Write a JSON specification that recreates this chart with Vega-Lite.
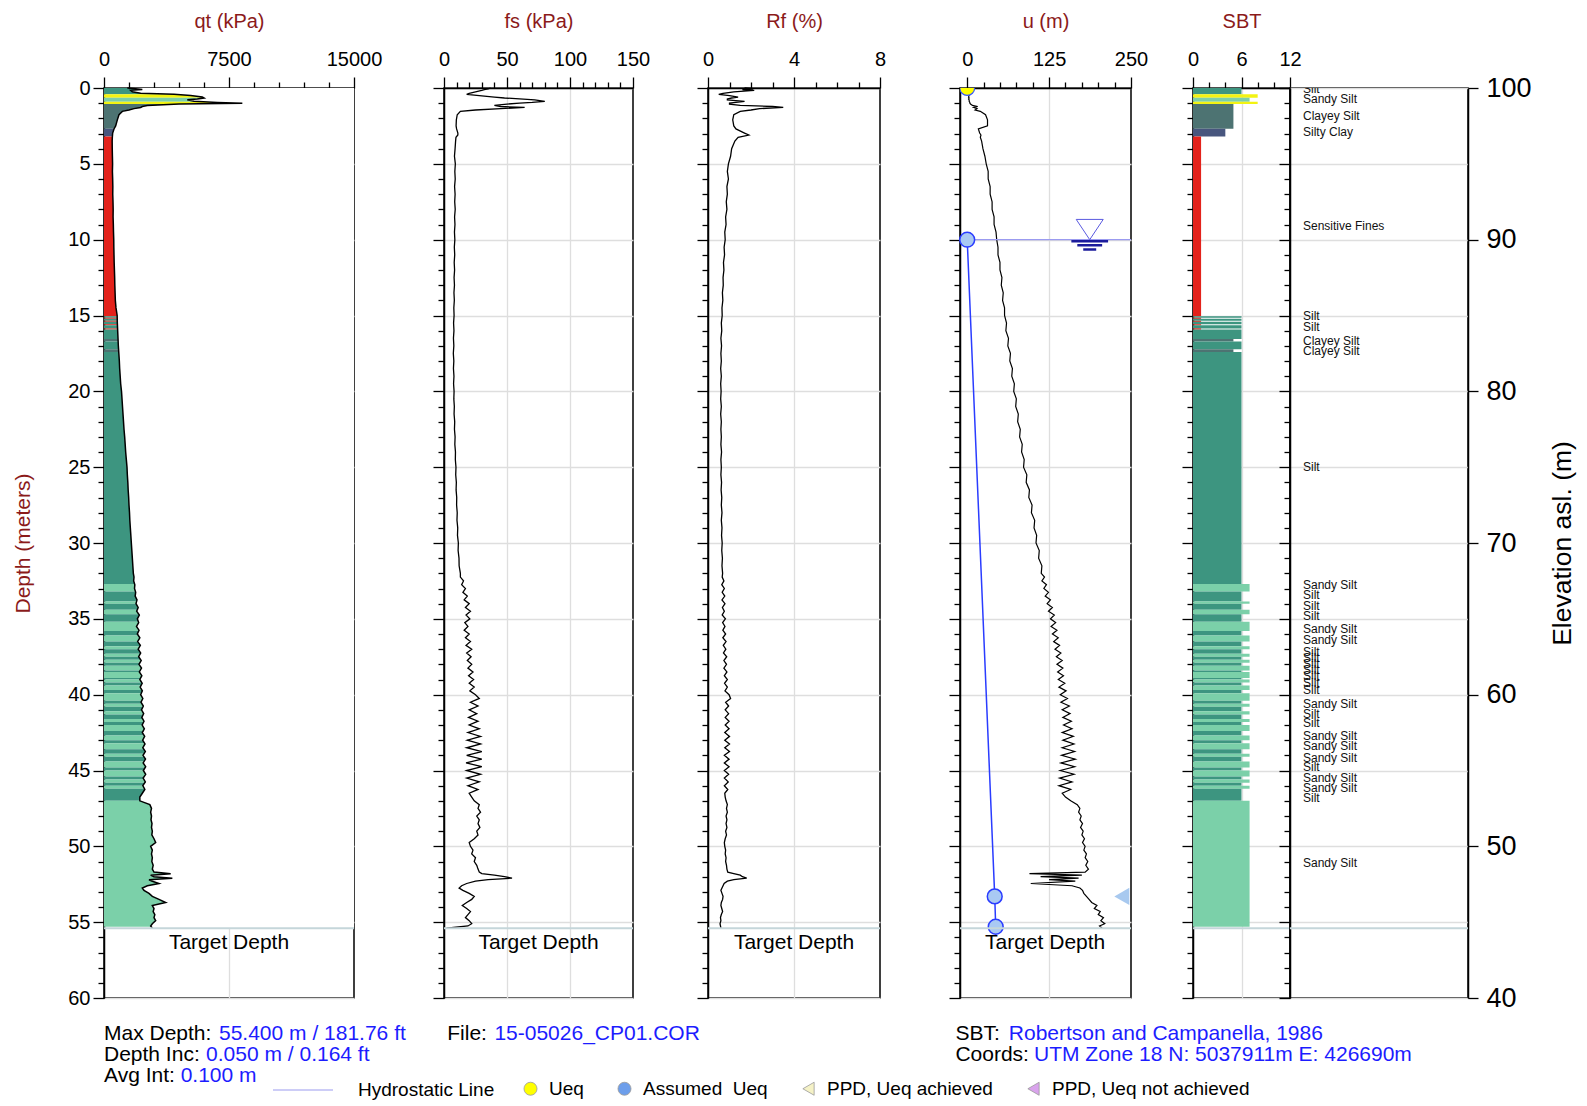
{
  "$schema": "https://vega.github.io/schema/vega-lite/v6.json",
  "padding": {"left": 12, "top": 10, "right": 0, "bottom": 0},
  "bounds": "flush",
  "spacing": 0,
  "config": {
    "font": "Liberation Sans",
    "view": {"stroke": "black", "strokeWidth": 1.5},
    "axis": {
      "labelFont": "Liberation Sans", "labelFontSize": 20, "labelColor": "black",
      "titleFont": "Liberation Sans", "titleFontSize": 20, "titleFontWeight": "normal", "titleColor": "#8b1a1a",
      "tickColor": "black", "tickWidth": 1.3, "domainColor": "black", "domainWidth": 1.5,
      "gridColor": "#dedede", "gridWidth": 1.3, "labelFlush": false, "labelOverlap": false, "zindex": 1, "tickCount": 200
    },
    "axisTop": {"labelPadding": 8, "titlePadding": 18},
    "text": {"font": "Liberation Sans"},
    "legend": {"labelFont": "Liberation Sans", "labelColor": "black"}
  },
  "datasets": {
    "cpt": [
      {"d":0.00,"qt":1400,"fs":37,"rf":1.7,"u":1},
      {"d":0.05,"qt":1900,"fs":35,"rf":2.1,"u":1},
      {"d":0.10,"qt":2300,"fs":32,"rf":1.6,"u":2},
      {"d":0.15,"qt":1600,"fs":30,"rf":2.15,"u":2},
      {"d":0.25,"qt":1700,"fs":25,"rf":1.2,"u":3},
      {"d":0.35,"qt":2200,"fs":20,"rf":0.7,"u":3},
      {"d":0.42,"qt":4200,"fs":18,"rf":0.5,"u":2},
      {"d":0.50,"qt":5200,"fs":28,"rf":1.0,"u":3},
      {"d":0.60,"qt":5900,"fs":40,"rf":1.4,"u":2},
      {"d":0.66,"qt":6000,"fs":48,"rf":1.1,"u":3},
      {"d":0.72,"qt":5600,"fs":60,"rf":0.9,"u":2},
      {"d":0.78,"qt":5000,"fs":72,"rf":0.9,"u":3},
      {"d":0.88,"qt":5400,"fs":80,"rf":1.7,"u":3},
      {"d":0.95,"qt":6800,"fs":70,"rf":1.3,"u":4},
      {"d":1.00,"qt":8300,"fs":60,"rf":1.0,"u":4},
      {"d":1.06,"qt":4500,"fs":50,"rf":1.0,"u":5},
      {"d":1.15,"qt":2600,"fs":40,"rf":1.5,"u":8},
      {"d":1.22,"qt":2300,"fs":45,"rf":3.0,"u":16},
      {"d":1.28,"qt":2200,"fs":64,"rf":3.5,"u":10},
      {"d":1.36,"qt":1800,"fs":45,"rf":2.4,"u":15},
      {"d":1.45,"qt":1500,"fs":25,"rf":2.0,"u":12},
      {"d":1.54,"qt":1100,"fs":13,"rf":1.5,"u":20},
      {"d":1.76,"qt":900,"fs":10.5,"rf":1.2,"u":28},
      {"d":2.10,"qt":800,"fs":9.8,"rf":1.15,"u":31},
      {"d":2.50,"qt":700,"fs":9.6,"rf":1.2,"u":31},
      {"d":2.70,"qt":600,"fs":10,"rf":1.3,"u":17},
      {"d":2.97,"qt":520,"fs":11,"rf":1.7,"u":19},
      {"d":3.10,"qt":510,"fs":11,"rf":1.9,"u":21},
      {"d":3.25,"qt":500,"fs":9.5,"rf":1.4,"u":20},
      {"d":3.50,"qt":490,"fs":9.2,"rf":1.25,"u":22},
      {"d":4.0,"qt":495,"fs":8.8,"rf":1.1,"u":24},
      {"d":4.5,"qt":505,"fs":8.3,"rf":1.05,"u":27},
      {"d":5.0,"qt":515,"fs":9.0,"rf":0.95,"u":29},
      {"d":5.5,"qt":505,"fs":8.6,"rf":0.9,"u":32},
      {"d":6.0,"qt":520,"fs":8.9,"rf":0.95,"u":32},
      {"d":6.5,"qt":530,"fs":8.4,"rf":0.88,"u":35},
      {"d":7.0,"qt":525,"fs":8.8,"rf":0.9,"u":35},
      {"d":7.5,"qt":540,"fs":8.5,"rf":0.85,"u":38},
      {"d":8.0,"qt":550,"fs":8.9,"rf":0.88,"u":38},
      {"d":8.5,"qt":545,"fs":8.4,"rf":0.82,"u":41},
      {"d":9.0,"qt":560,"fs":8.7,"rf":0.84,"u":41},
      {"d":9.5,"qt":570,"fs":8.3,"rf":0.78,"u":44},
      {"d":10.0,"qt":585,"fs":8.6,"rf":0.8,"u":45},
      {"d":10.5,"qt":590,"fs":8.2,"rf":0.75,"u":47},
      {"d":11.0,"qt":600,"fs":8.5,"rf":0.77,"u":47},
      {"d":11.5,"qt":610,"fs":8.1,"rf":0.72,"u":50},
      {"d":12.0,"qt":625,"fs":8.4,"rf":0.74,"u":50},
      {"d":12.5,"qt":640,"fs":8.0,"rf":0.7,"u":53},
      {"d":13.0,"qt":650,"fs":8.3,"rf":0.71,"u":52},
      {"d":13.5,"qt":665,"fs":7.9,"rf":0.67,"u":55},
      {"d":14.0,"qt":680,"fs":8.2,"rf":0.69,"u":54},
      {"d":14.5,"qt":720,"fs":7.8,"rf":0.65,"u":57},
      {"d":15.0,"qt":790,"fs":8.0,"rf":0.66,"u":57},
      {"d":15.5,"qt":800,"fs":7.6,"rf":0.62,"u":60},
      {"d":16.0,"qt":820,"fs":7.9,"rf":0.64,"u":59},
      {"d":16.5,"qt":840,"fs":7.5,"rf":0.6,"u":63},
      {"d":17.0,"qt":860,"fs":7.8,"rf":0.63,"u":62},
      {"d":17.5,"qt":890,"fs":7.4,"rf":0.6,"u":66},
      {"d":18.0,"qt":920,"fs":7.8,"rf":0.62,"u":65},
      {"d":18.5,"qt":940,"fs":7.5,"rf":0.59,"u":69},
      {"d":19.0,"qt":970,"fs":7.9,"rf":0.62,"u":68},
      {"d":19.5,"qt":1000,"fs":7.6,"rf":0.59,"u":72},
      {"d":20.0,"qt":1050,"fs":8.0,"rf":0.61,"u":71},
      {"d":20.5,"qt":1080,"fs":7.8,"rf":0.59,"u":75},
      {"d":21.0,"qt":1110,"fs":8.2,"rf":0.62,"u":74},
      {"d":21.5,"qt":1140,"fs":8.0,"rf":0.59,"u":78},
      {"d":22.0,"qt":1170,"fs":8.5,"rf":0.62,"u":77},
      {"d":22.5,"qt":1200,"fs":8.3,"rf":0.6,"u":81},
      {"d":23.0,"qt":1240,"fs":8.8,"rf":0.62,"u":80},
      {"d":23.5,"qt":1270,"fs":8.6,"rf":0.6,"u":84},
      {"d":24.0,"qt":1300,"fs":9.1,"rf":0.63,"u":83},
      {"d":24.5,"qt":1340,"fs":9.0,"rf":0.6,"u":87},
      {"d":25.0,"qt":1380,"fs":9.5,"rf":0.62,"u":86},
      {"d":25.5,"qt":1400,"fs":9.3,"rf":0.6,"u":91},
      {"d":26.0,"qt":1430,"fs":9.8,"rf":0.63,"u":90},
      {"d":26.5,"qt":1450,"fs":9.6,"rf":0.61,"u":95},
      {"d":27.0,"qt":1480,"fs":10.1,"rf":0.64,"u":94},
      {"d":27.5,"qt":1500,"fs":10.0,"rf":0.62,"u":99},
      {"d":28.0,"qt":1530,"fs":10.5,"rf":0.65,"u":98},
      {"d":28.5,"qt":1550,"fs":10.3,"rf":0.62,"u":103},
      {"d":29.0,"qt":1580,"fs":10.9,"rf":0.65,"u":102},
      {"d":29.5,"qt":1610,"fs":10.7,"rf":0.63,"u":106},
      {"d":30.0,"qt":1640,"fs":11.4,"rf":0.66,"u":105},
      {"d":30.5,"qt":1670,"fs":11.2,"rf":0.64,"u":110},
      {"d":31.0,"qt":1700,"fs":11.9,"rf":0.67,"u":109},
      {"d":31.5,"qt":1730,"fs":12.0,"rf":0.65,"u":114},
      {"d":32.0,"qt":1760,"fs":13.0,"rf":0.68,"u":113},
      {"d":32.25,"qt":1800,"fs":13.0,"rf":0.66,"u":118},
      {"d":32.50,"qt":1780,"fs":15.5,"rf":0.74,"u":114},
      {"d":32.75,"qt":1850,"fs":14.0,"rf":0.64,"u":121},
      {"d":33.00,"qt":1830,"fs":17.0,"rf":0.76,"u":117},
      {"d":33.25,"qt":1900,"fs":15.0,"rf":0.66,"u":124},
      {"d":33.50,"qt":1870,"fs":18.5,"rf":0.78,"u":119},
      {"d":33.75,"qt":1980,"fs":16.0,"rf":0.65,"u":127},
      {"d":34.00,"qt":1920,"fs":20.0,"rf":0.79,"u":122},
      {"d":34.25,"qt":2050,"fs":17.0,"rf":0.67,"u":130},
      {"d":34.50,"qt":1960,"fs":21.0,"rf":0.76,"u":124},
      {"d":34.75,"qt":2120,"fs":17.5,"rf":0.66,"u":133},
      {"d":35.00,"qt":2000,"fs":20.5,"rf":0.81,"u":127},
      {"d":35.25,"qt":2080,"fs":16.5,"rf":0.68,"u":135},
      {"d":35.50,"qt":1950,"fs":19.0,"rf":0.79,"u":128},
      {"d":35.75,"qt":2100,"fs":16.0,"rf":0.69,"u":137},
      {"d":36.00,"qt":2000,"fs":20.0,"rf":0.82,"u":130},
      {"d":36.25,"qt":2150,"fs":17.0,"rf":0.69,"u":139},
      {"d":36.50,"qt":2020,"fs":21.0,"rf":0.84,"u":132},
      {"d":36.75,"qt":2180,"fs":17.5,"rf":0.71,"u":141},
      {"d":37.00,"qt":2050,"fs":22.0,"rf":0.83,"u":134},
      {"d":37.25,"qt":2200,"fs":18.0,"rf":0.72,"u":143},
      {"d":37.50,"qt":2080,"fs":21.5,"rf":0.87,"u":136},
      {"d":37.75,"qt":2230,"fs":18.5,"rf":0.74,"u":145},
      {"d":38.00,"qt":2100,"fs":22.0,"rf":0.86,"u":137},
      {"d":38.25,"qt":2250,"fs":19.0,"rf":0.74,"u":146},
      {"d":38.50,"qt":2120,"fs":23.0,"rf":0.88,"u":138},
      {"d":38.75,"qt":2270,"fs":19.5,"rf":0.76,"u":147},
      {"d":39.00,"qt":2150,"fs":23.5,"rf":0.90,"u":139},
      {"d":39.25,"qt":2290,"fs":20.0,"rf":0.77,"u":149},
      {"d":39.50,"qt":2170,"fs":24.0,"rf":0.90,"u":140},
      {"d":39.75,"qt":2300,"fs":20.5,"rf":0.79,"u":151},
      {"d":40.00,"qt":2200,"fs":25.0,"rf":0.98,"u":142},
      {"d":40.25,"qt":2330,"fs":28.0,"rf":1.05,"u":153},
      {"d":40.50,"qt":2220,"fs":21.0,"rf":0.82,"u":143},
      {"d":40.75,"qt":2360,"fs":27.0,"rf":0.96,"u":156},
      {"d":41.00,"qt":2250,"fs":20.0,"rf":0.80,"u":145},
      {"d":41.25,"qt":2380,"fs":26.0,"rf":0.96,"u":157},
      {"d":41.50,"qt":2270,"fs":19.5,"rf":0.80,"u":146},
      {"d":41.75,"qt":2400,"fs":27.0,"rf":0.98,"u":159},
      {"d":42.00,"qt":2290,"fs":20.0,"rf":0.80,"u":147},
      {"d":42.25,"qt":2420,"fs":28.0,"rf":0.98,"u":160},
      {"d":42.50,"qt":2300,"fs":19.0,"rf":0.78,"u":145},
      {"d":42.75,"qt":2440,"fs":29.0,"rf":1.00,"u":162},
      {"d":43.00,"qt":2320,"fs":18.5,"rf":0.78,"u":146},
      {"d":43.25,"qt":2460,"fs":29.0,"rf":1.00,"u":163},
      {"d":43.50,"qt":2330,"fs":18.0,"rf":0.78,"u":145},
      {"d":43.75,"qt":2480,"fs":30.0,"rf":1.00,"u":164},
      {"d":44.00,"qt":2340,"fs":18.0,"rf":0.76,"u":144},
      {"d":44.25,"qt":2490,"fs":30.0,"rf":0.98,"u":165},
      {"d":44.50,"qt":2350,"fs":17.5,"rf":0.76,"u":143},
      {"d":44.75,"qt":2500,"fs":30.0,"rf":0.98,"u":164},
      {"d":45.00,"qt":2360,"fs":18.0,"rf":0.76,"u":142},
      {"d":45.25,"qt":2500,"fs":29.0,"rf":0.96,"u":163},
      {"d":45.50,"qt":2350,"fs":18.0,"rf":0.76,"u":141},
      {"d":45.75,"qt":2480,"fs":28.0,"rf":0.94,"u":160},
      {"d":46.00,"qt":2330,"fs":19.0,"rf":0.76,"u":140},
      {"d":46.25,"qt":2450,"fs":27.0,"rf":0.92,"u":158},
      {"d":46.50,"qt":2300,"fs":20.0,"rf":0.78,"u":145},
      {"d":46.75,"qt":2150,"fs":22.0,"rf":0.80,"u":150},
      {"d":47.00,"qt":2150,"fs":24.0,"rf":0.84,"u":158},
      {"d":47.25,"qt":2750,"fs":28.0,"rf":0.90,"u":168},
      {"d":47.50,"qt":2850,"fs":27.0,"rf":0.86,"u":172},
      {"d":47.75,"qt":2800,"fs":29.0,"rf":0.90,"u":170},
      {"d":48.00,"qt":2850,"fs":26.0,"rf":0.84,"u":174},
      {"d":48.25,"qt":2820,"fs":28.0,"rf":0.88,"u":172},
      {"d":48.50,"qt":2880,"fs":27.0,"rf":0.84,"u":176},
      {"d":48.75,"qt":2850,"fs":28.5,"rf":0.88,"u":173},
      {"d":49.00,"qt":2900,"fs":26.0,"rf":0.82,"u":177},
      {"d":49.25,"qt":2870,"fs":27.0,"rf":0.86,"u":175},
      {"d":49.50,"qt":3000,"fs":24.0,"rf":0.80,"u":179},
      {"d":49.75,"qt":3100,"fs":20.0,"rf":0.76,"u":176},
      {"d":50.00,"qt":2800,"fs":21.0,"rf":0.78,"u":180},
      {"d":50.25,"qt":2900,"fs":23.0,"rf":0.82,"u":178},
      {"d":50.50,"qt":2850,"fs":22.0,"rf":0.80,"u":182},
      {"d":50.75,"qt":2900,"fs":25.0,"rf":0.84,"u":180},
      {"d":51.00,"qt":2870,"fs":24.0,"rf":0.82,"u":184},
      {"d":51.25,"qt":2950,"fs":26.0,"rf":0.86,"u":181},
      {"d":51.50,"qt":2900,"fs":27.0,"rf":0.88,"u":185},
      {"d":51.70,"qt":3000,"fs":28.0,"rf":0.92,"u":180},
      {"d":51.80,"qt":4000,"fs":30.0,"rf":1.20,"u":95},
      {"d":51.90,"qt":2800,"fs":40.0,"rf":1.50,"u":175},
      {"d":52.00,"qt":3000,"fs":48.0,"rf":1.60,"u":112},
      {"d":52.10,"qt":4100,"fs":54.0,"rf":1.80,"u":170},
      {"d":52.20,"qt":2700,"fs":35.0,"rf":1.20,"u":125},
      {"d":52.30,"qt":2900,"fs":25.0,"rf":0.90,"u":165},
      {"d":52.45,"qt":3300,"fs":18.0,"rf":0.75,"u":97},
      {"d":52.60,"qt":2600,"fs":14.0,"rf":0.70,"u":160},
      {"d":52.75,"qt":2300,"fs":12.0,"rf":0.65,"u":172},
      {"d":52.90,"qt":2400,"fs":15.0,"rf":0.60,"u":176},
      {"d":53.10,"qt":2700,"fs":20.0,"rf":0.65,"u":178},
      {"d":53.30,"qt":2900,"fs":24.0,"rf":0.70,"u":182},
      {"d":53.50,"qt":3300,"fs":22.0,"rf":0.68,"u":186},
      {"d":53.70,"qt":3700,"fs":18.0,"rf":0.62,"u":190},
      {"d":53.90,"qt":2900,"fs":14.5,"rf":0.60,"u":198},
      {"d":54.10,"qt":3000,"fs":18.0,"rf":0.64,"u":194},
      {"d":54.30,"qt":2950,"fs":21.0,"rf":0.68,"u":203},
      {"d":54.50,"qt":3050,"fs":19.0,"rf":0.62,"u":200},
      {"d":54.70,"qt":3000,"fs":17.0,"rf":0.58,"u":208},
      {"d":54.90,"qt":3100,"fs":20.0,"rf":0.60,"u":204},
      {"d":55.10,"qt":2900,"fs":22.0,"rf":0.56,"u":210},
      {"d":55.25,"qt":2800,"fs":19.0,"rf":0.58,"u":202},
      {"d":55.40,"qt":2900,"fs":2.0,"rf":0.60,"u":206}
    ],
    "layers": [
      {"top":0,"bot":0.42,"zone":"Silt","val":6},
      {"top":0.42,"bot":0.64,"zone":"Silty Sand","val":8},
      {"top":0.64,"bot":0.9,"zone":"Sandy Silt","val":7},
      {"top":0.9,"bot":1.06,"zone":"Silty Sand","val":8},
      {"top":1.06,"bot":2.68,"zone":"Clayey Silt","val":5},
      {"top":2.68,"bot":3.2,"zone":"Silty Clay","val":4},
      {"top":3.2,"bot":15.05,"zone":"Sensitive Fines","val":1},
      {"top":15.05,"bot":15.15,"zone":"Silt","val":6},
      {"top":15.15,"bot":15.22,"zone":"Sensitive Fines","val":1},
      {"top":15.22,"bot":15.35,"zone":"Silt","val":6},
      {"top":15.35,"bot":15.42,"zone":"Sensitive Fines","val":1},
      {"top":15.42,"bot":15.58,"zone":"Silt","val":6},
      {"top":15.58,"bot":15.65,"zone":"Sensitive Fines","val":1},
      {"top":15.65,"bot":15.85,"zone":"Silt","val":6},
      {"top":15.85,"bot":15.93,"zone":"Sensitive Fines","val":1},
      {"top":15.93,"bot":16.55,"zone":"Silt","val":6},
      {"top":16.55,"bot":16.72,"zone":"Clayey Silt","val":5},
      {"top":16.72,"bot":17.22,"zone":"Silt","val":6},
      {"top":17.22,"bot":17.4,"zone":"Clayey Silt","val":5},
      {"top":17.4,"bot":32.7,"zone":"Silt","val":6},
      {"top":32.7,"bot":33.2,"zone":"Sandy Silt","val":7},
      {"top":33.2,"bot":33.85,"zone":"Silt","val":6},
      {"top":33.85,"bot":34.0,"zone":"Sandy Silt","val":7},
      {"top":34.0,"bot":34.4,"zone":"Silt","val":6},
      {"top":34.4,"bot":34.7,"zone":"Sandy Silt","val":7},
      {"top":34.7,"bot":35.2,"zone":"Silt","val":6},
      {"top":35.2,"bot":35.8,"zone":"Sandy Silt","val":7},
      {"top":35.8,"bot":36.1,"zone":"Silt","val":6},
      {"top":36.1,"bot":36.5,"zone":"Sandy Silt","val":7},
      {"top":36.5,"bot":36.8,"zone":"Silt","val":6},
      {"top":36.8,"bot":37.0,"zone":"Sandy Silt","val":7},
      {"top":37.0,"bot":37.3,"zone":"Silt","val":6},
      {"top":37.3,"bot":37.5,"zone":"Sandy Silt","val":7},
      {"top":37.5,"bot":37.7,"zone":"Silt","val":6},
      {"top":37.7,"bot":37.9,"zone":"Sandy Silt","val":7},
      {"top":37.9,"bot":38.1,"zone":"Silt","val":6},
      {"top":38.1,"bot":38.4,"zone":"Sandy Silt","val":7},
      {"top":38.4,"bot":38.5,"zone":"Silt","val":6},
      {"top":38.5,"bot":38.9,"zone":"Sandy Silt","val":7},
      {"top":38.9,"bot":39.0,"zone":"Silt","val":6},
      {"top":39.0,"bot":39.2,"zone":"Sandy Silt","val":7},
      {"top":39.2,"bot":39.4,"zone":"Silt","val":6},
      {"top":39.4,"bot":39.7,"zone":"Sandy Silt","val":7},
      {"top":39.7,"bot":39.9,"zone":"Silt","val":6},
      {"top":39.9,"bot":40.4,"zone":"Sandy Silt","val":7},
      {"top":40.4,"bot":40.6,"zone":"Silt","val":6},
      {"top":40.6,"bot":40.8,"zone":"Sandy Silt","val":7},
      {"top":40.8,"bot":41.1,"zone":"Silt","val":6},
      {"top":41.1,"bot":41.3,"zone":"Sandy Silt","val":7},
      {"top":41.3,"bot":41.6,"zone":"Silt","val":6},
      {"top":41.6,"bot":41.8,"zone":"Sandy Silt","val":7},
      {"top":41.8,"bot":42.0,"zone":"Silt","val":6},
      {"top":42.0,"bot":42.4,"zone":"Sandy Silt","val":7},
      {"top":42.4,"bot":42.7,"zone":"Silt","val":6},
      {"top":42.7,"bot":43.0,"zone":"Sandy Silt","val":7},
      {"top":43.0,"bot":43.2,"zone":"Silt","val":6},
      {"top":43.2,"bot":43.6,"zone":"Sandy Silt","val":7},
      {"top":43.6,"bot":43.9,"zone":"Silt","val":6},
      {"top":43.9,"bot":44.1,"zone":"Sandy Silt","val":7},
      {"top":44.1,"bot":44.4,"zone":"Silt","val":6},
      {"top":44.4,"bot":44.8,"zone":"Sandy Silt","val":7},
      {"top":44.8,"bot":45.0,"zone":"Silt","val":6},
      {"top":45.0,"bot":45.4,"zone":"Sandy Silt","val":7},
      {"top":45.4,"bot":45.6,"zone":"Silt","val":6},
      {"top":45.6,"bot":45.8,"zone":"Sandy Silt","val":7},
      {"top":45.8,"bot":46.0,"zone":"Silt","val":6},
      {"top":46.0,"bot":46.2,"zone":"Sandy Silt","val":7},
      {"top":46.2,"bot":47.0,"zone":"Silt","val":6},
      {"top":47.0,"bot":55.3,"zone":"Sandy Silt","val":7}
    ],
    "labels": [
      {"d":0.05,"name":"Silt"},
      {"d":0.75,"name":"Sandy Silt"},
      {"d":1.85,"name":"Clayey Silt"},
      {"d":2.9,"name":"Silty Clay"},
      {"d":9.1,"name":"Sensitive Fines"},
      {"d":15.05,"name":"Silt"},
      {"d":15.75,"name":"Silt"},
      {"d":16.7,"name":"Clayey Silt"},
      {"d":17.35,"name":"Clayey Silt"},
      {"d":25.0,"name":"Silt"},
      {"d":32.8,"name":"Sandy Silt"},
      {"d":33.45,"name":"Silt"},
      {"d":34.15,"name":"Silt"},
      {"d":34.8,"name":"Silt"},
      {"d":35.7,"name":"Sandy Silt"},
      {"d":36.4,"name":"Sandy Silt"},
      {"d":37.2,"name":"Silt"},
      {"d":37.6,"name":"Silt"},
      {"d":38.0,"name":"Silt"},
      {"d":38.4,"name":"Silt"},
      {"d":38.8,"name":"Silt"},
      {"d":39.2,"name":"Silt"},
      {"d":39.7,"name":"Silt"},
      {"d":40.6,"name":"Sandy Silt"},
      {"d":41.25,"name":"Silt"},
      {"d":41.9,"name":"Silt"},
      {"d":42.7,"name":"Sandy Silt"},
      {"d":43.4,"name":"Sandy Silt"},
      {"d":44.2,"name":"Sandy Silt"},
      {"d":44.8,"name":"Silt"},
      {"d":45.5,"name":"Sandy Silt"},
      {"d":46.15,"name":"Sandy Silt"},
      {"d":46.8,"name":"Silt"},
      {"d":51.1,"name":"Sandy Silt"}
    ],
    "target": [{"d":55.4,"t":"Target Depth"}],
    "foot": [
      {"p":"qt","d":62.35,"lx":0,"label":"Max Depth:","vx":6900,"value":"55.400 m / 181.76 ft"},
      {"p":"qt","d":63.75,"lx":0,"label":"Depth Inc:","vx":6125,"value":"0.050 m / 0.164 ft"},
      {"p":"qt","d":65.15,"lx":0,"label":"Avg Int:","vx":4600,"value":"0.100 m"},
      {"p":"fs","d":62.35,"lx":2.6,"label":"File:","vx":40,"value":"15-05026_CP01.COR"},
      {"p":"u","d":62.35,"lx":-18,"label":"SBT:","vx":63.5,"value":"Robertson and Campanella, 1986"},
      {"p":"u","d":63.75,"lx":-18,"label":"Coords:","vx":102,"value":"UTM Zone 18 N: 5037911m E: 426690m"}
    ],
    "ueq": [{"u":0,"d":10},{"u":42,"d":53.3},{"u":43.5,"d":55.3}],
    "legendItems": [{"k":"Ueq"},{"k":"Assumed\u00a0\u00a0Ueq"},{"k":"PPD, Ueq achieved"},{"k":"PPD, Ueq not achieved"}]
  },
  "hconcat": [
    {
      "width": 250, "height": 910,
      "layer": [
        {
          "data": {"name": "layers"},
          "mark": {"type": "rect"},
          "encoding": {
            "y": {"field": "top", "type": "quantitative", "scale": {"domain": [0, 60], "reverse": true, "nice": false, "zero": false},
              "axis": {"orient": "left", "title": "Depth (meters)", "titleFontSize": 21, "titlePadding": 34, "labelPadding": 3, "tickCount": 200, "format": "d",
                "values": [0,1,2,3,4,5,6,7,8,9,10,11,12,13,14,15,16,17,18,19,20,21,22,23,24,25,26,27,28,29,30,31,32,33,34,35,36,37,38,39,40,41,42,43,44,45,46,47,48,49,50,51,52,53,54,55,56,57,58,59,60],
                "labelExpr": "datum.value % 5 === 0 ? datum.label : ''",
                "tickSize": {"condition": {"test": "datum.value % 5 === 0", "value": 11}, "value": 6},
                "grid": true, "gridOpacity": {"condition": {"test": "datum.value % 5 === 0", "value": 1}, "value": 0}}},
            "y2": {"field": "bot"},
            "x": {"datum": 0, "type": "quantitative", "scale": {"domain": [0, 15000], "nice": false, "zero": false},
              "axis": {"orient": "top", "title": "qt (kPa)", "format": "d", "tickCount": 200,
                "values": [0,1500,3000,4500,6000,7500,9000,10500,12000,13500,15000],
                "labelExpr": "datum.value % 7500 === 0 ? datum.label : ''",
                "tickSize": {"condition": {"test": "datum.value % 7500 === 0", "value": 11}, "value": 6},
                "grid": true, "gridOpacity": {"condition": {"test": "datum.value === 7500", "value": 1}, "value": 0}}},
            "x2": {"datum": 9000},
            "color": {"field": "zone", "type": "nominal", "legend": null,
              "scale": {"domain": ["Sensitive Fines","Silty Clay","Clayey Silt","Silt","Sandy Silt","Silty Sand"],
                        "range": ["#e3221b","#48567e","#4d7372","#3d9580","#7bd0a9","#f3f312"]}}
          }
        },
        {
          "data": {"name": "cpt"},
          "mark": {"type": "area", "orient": "horizontal", "color": "white"},
          "encoding": {
            "y": {"field": "d", "type": "quantitative"},
            "x": {"field": "qt", "type": "quantitative"},
            "x2": {"datum": 15000}
          }
        },
        {
          "data": {"name": "cpt"},
          "mark": {"type": "line", "color": "black", "strokeWidth": 1.5},
          "encoding": {
            "y": {"field": "d", "type": "quantitative"},
            "x": {"field": "qt", "type": "quantitative"},
            "order": {"field": "d", "type": "quantitative"}
          }
        },
        {
          "data": {"name": "target"},
          "mark": {"type": "rule", "color": "#c5d6da", "strokeWidth": 2},
          "encoding": {"y": {"field": "d", "type": "quantitative"}}
        },
        {
          "data": {"name": "target"},
          "mark": {"type": "text", "fontSize": 21, "dy": 15, "baseline": "middle", "color": "black"},
          "encoding": {"y": {"field": "d", "type": "quantitative"}, "x": {"datum": 7500, "type": "quantitative"}, "text": {"field": "t"}}
        },
        {
          "data": {"name": "foot"},
          "transform": [{"filter": "datum.p === 'qt'"}],
          "mark": {"type": "text", "align": "left", "baseline": "middle", "fontSize": 21, "color": "black"},
          "encoding": {"x": {"field": "lx", "type": "quantitative"}, "y": {"field": "d", "type": "quantitative"}, "text": {"field": "label"}}
        },
        {
          "data": {"name": "foot"},
          "transform": [{"filter": "datum.p === 'qt'"}],
          "mark": {"type": "text", "align": "left", "baseline": "middle", "fontSize": 21, "color": "#1c1cff"},
          "encoding": {"x": {"field": "vx", "type": "quantitative"}, "y": {"field": "d", "type": "quantitative"}, "text": {"field": "value"}}
        }
      ]
    },
    {"width": 90, "height": 910, "view": {"stroke": null}, "data": {"values": []}, "mark": "text"},
    {
      "width": 189, "height": 910,
      "layer": [
        {
          "data": {"name": "cpt"},
          "mark": {"type": "line", "color": "black", "strokeWidth": 1.3},
          "encoding": {
            "y": {"field": "d", "type": "quantitative", "scale": {"domain": [0, 60], "reverse": true, "nice": false, "zero": false},
              "axis": {"orient": "left", "title": null, "labels": false, "tickCount": 200,
                "values": [0,1,2,3,4,5,6,7,8,9,10,11,12,13,14,15,16,17,18,19,20,21,22,23,24,25,26,27,28,29,30,31,32,33,34,35,36,37,38,39,40,41,42,43,44,45,46,47,48,49,50,51,52,53,54,55,56,57,58,59,60],
                "tickSize": {"condition": {"test": "datum.value % 5 === 0", "value": 11}, "value": 6},
                "grid": true, "gridOpacity": {"condition": {"test": "datum.value % 5 === 0", "value": 1}, "value": 0}}},
            "x": {"field": "fs", "type": "quantitative", "scale": {"domain": [0, 150], "nice": false, "zero": false},
              "axis": {"orient": "top", "title": "fs (kPa)", "format": "d", "tickCount": 200,
                "values": [0,10,20,30,40,50,60,70,80,90,100,110,120,130,140,150],
                "labelExpr": "datum.value % 50 === 0 ? datum.label : ''",
                "tickSize": {"condition": {"test": "datum.value % 50 === 0", "value": 11}, "value": 6},
                "grid": true, "gridOpacity": {"condition": {"test": "datum.value === 50 || datum.value === 100", "value": 1}, "value": 0}}},
            "order": {"field": "d", "type": "quantitative"}
          }
        },
        {
          "data": {"name": "target"},
          "mark": {"type": "rule", "color": "#c5d6da", "strokeWidth": 2},
          "encoding": {"y": {"field": "d", "type": "quantitative"}}
        },
        {
          "data": {"name": "target"},
          "mark": {"type": "text", "fontSize": 21, "dy": 15, "baseline": "middle", "color": "black"},
          "encoding": {"y": {"field": "d", "type": "quantitative"}, "x": {"datum": 75, "type": "quantitative"}, "text": {"field": "t"}}
        },
        {
          "data": {"name": "foot"},
          "transform": [{"filter": "datum.p === 'fs'"}],
          "mark": {"type": "text", "align": "left", "baseline": "middle", "fontSize": 21, "color": "black"},
          "encoding": {"x": {"field": "lx", "type": "quantitative"}, "y": {"field": "d", "type": "quantitative"}, "text": {"field": "label"}}
        },
        {
          "data": {"name": "foot"},
          "transform": [{"filter": "datum.p === 'fs'"}],
          "mark": {"type": "text", "align": "left", "baseline": "middle", "fontSize": 21, "color": "#1c1cff"},
          "encoding": {"x": {"field": "vx", "type": "quantitative"}, "y": {"field": "d", "type": "quantitative"}, "text": {"field": "value"}}
        }
      ]
    },
    {"width": 75, "height": 910, "view": {"stroke": null}, "data": {"values": []}, "mark": "text"},
    {
      "width": 172, "height": 910,
      "layer": [
        {
          "data": {"name": "cpt"},
          "mark": {"type": "line", "color": "black", "strokeWidth": 1.3},
          "encoding": {
            "y": {"field": "d", "type": "quantitative", "scale": {"domain": [0, 60], "reverse": true, "nice": false, "zero": false},
              "axis": {"orient": "left", "title": null, "labels": false, "tickCount": 200,
                "values": [0,1,2,3,4,5,6,7,8,9,10,11,12,13,14,15,16,17,18,19,20,21,22,23,24,25,26,27,28,29,30,31,32,33,34,35,36,37,38,39,40,41,42,43,44,45,46,47,48,49,50,51,52,53,54,55,56,57,58,59,60],
                "tickSize": {"condition": {"test": "datum.value % 5 === 0", "value": 11}, "value": 6},
                "grid": true, "gridOpacity": {"condition": {"test": "datum.value % 5 === 0", "value": 1}, "value": 0}}},
            "x": {"field": "rf", "type": "quantitative", "scale": {"domain": [0, 8], "nice": false, "zero": false},
              "axis": {"orient": "top", "title": "Rf (%)", "format": "d", "tickCount": 200,
                "values": [0,1,2,3,4,5,6,7,8],
                "labelExpr": "datum.value % 4 === 0 ? datum.label : ''",
                "tickSize": {"condition": {"test": "datum.value % 4 === 0", "value": 11}, "value": 6},
                "grid": true, "gridOpacity": {"condition": {"test": "datum.value === 4", "value": 1}, "value": 0}}},
            "order": {"field": "d", "type": "quantitative"}
          }
        },
        {
          "data": {"name": "target"},
          "mark": {"type": "rule", "color": "#c5d6da", "strokeWidth": 2},
          "encoding": {"y": {"field": "d", "type": "quantitative"}}
        },
        {
          "data": {"name": "target"},
          "mark": {"type": "text", "fontSize": 21, "dy": 15, "baseline": "middle", "color": "black"},
          "encoding": {"y": {"field": "d", "type": "quantitative"}, "x": {"datum": 4, "type": "quantitative"}, "text": {"field": "t"}}
        }
      ]
    },
    {"width": 80, "height": 910, "view": {"stroke": null}, "data": {"values": []}, "mark": "text"},
    {
      "width": 171, "height": 910,
      "layer": [
        {
          "data": {"name": "cpt"},
          "mark": {"type": "line", "color": "black", "strokeWidth": 1.2},
          "encoding": {
            "y": {"field": "d", "type": "quantitative", "scale": {"domain": [0, 60], "reverse": true, "nice": false, "zero": false},
              "axis": {"orient": "left", "title": null, "labels": false, "tickCount": 200,
                "values": [0,1,2,3,4,5,6,7,8,9,10,11,12,13,14,15,16,17,18,19,20,21,22,23,24,25,26,27,28,29,30,31,32,33,34,35,36,37,38,39,40,41,42,43,44,45,46,47,48,49,50,51,52,53,54,55,56,57,58,59,60],
                "tickSize": {"condition": {"test": "datum.value % 5 === 0", "value": 11}, "value": 6},
                "grid": true, "gridOpacity": {"condition": {"test": "datum.value % 5 === 0", "value": 1}, "value": 0}}},
            "x": {"field": "u", "type": "quantitative", "scale": {"domain": [-11, 250], "nice": false, "zero": false},
              "axis": {"orient": "top", "title": "u (m)", "format": "d", "tickCount": 200,
                "values": [0,25,50,75,100,125,150,175,200,225,250],
                "labelExpr": "datum.value % 125 === 0 ? datum.label : ''",
                "tickSize": {"condition": {"test": "datum.value % 125 === 0", "value": 11}, "value": 6},
                "grid": true, "gridOpacity": {"condition": {"test": "datum.value === 125", "value": 1}, "value": 0}}},
            "order": {"field": "d", "type": "quantitative"}
          }
        },
        {
          "data": {"values": [{"d": 10, "lt": "Hydrostatic Line"}]},
          "mark": {"type": "rule", "color": "#9b9bf0", "strokeWidth": 1.2},
          "encoding": {
            "y": {"field": "d", "type": "quantitative"},
            "strokeDash": {"field": "lt", "type": "nominal", "scale": {"range": [[1, 0]]},
              "legend": {"orient": "none", "legendX": 168, "legendY": 971, "title": null, "symbolType": "stroke", "symbolSize": 3600,
                "symbolStrokeWidth": 1.2, "symbolStrokeColor": "#9b9bf0", "labelFontSize": 19, "labelOffset": 24, "padding": 0}}
          }
        },
        {
          "data": {"name": "ueq"},
          "mark": {"type": "line", "color": "#2a3cff", "strokeWidth": 1.5},
          "encoding": {"y": {"field": "d", "type": "quantitative"}, "x": {"field": "u", "type": "quantitative"}, "order": {"field": "d", "type": "quantitative"}}
        },
        {
          "data": {"name": "ueq"},
          "mark": {"type": "point", "filled": true, "fill": "#a9c9f3", "stroke": "#2a3cff", "strokeWidth": 1.5, "size": 220, "opacity": 1},
          "encoding": {"y": {"field": "d", "type": "quantitative"}, "x": {"field": "u", "type": "quantitative"}}
        },
        {
          "data": {"values": [{"u": 0, "d": 0}]},
          "mark": {"type": "point", "filled": true, "fill": "#ffff00", "stroke": "#3355ff", "strokeWidth": 1.2, "size": 220, "opacity": 1, "clip": true},
          "encoding": {"y": {"field": "d", "type": "quantitative"}, "x": {"field": "u", "type": "quantitative"}}
        },
        {
          "data": {"values": [{"u": 187, "d": 10}]},
          "mark": {"type": "point", "shape": "M-1,-1.5L1,-1.5L0,0Z", "size": 729, "filled": false, "stroke": "#5a5ae0", "strokeWidth": 1, "opacity": 1},
          "encoding": {"y": {"field": "d", "type": "quantitative"}, "x": {"field": "u", "type": "quantitative"}}
        },
        {
          "data": {"values": [{"u": 187, "d": 10}]},
          "mark": {"type": "point", "shape": "M-1.36,0.12L1.36,0.12M-0.92,0.42L0.92,0.42M-0.48,0.72L0.48,0.72", "size": 729, "filled": false, "stroke": "#1c1c9c", "strokeWidth": 2.5, "opacity": 1},
          "encoding": {"y": {"field": "d", "type": "quantitative"}, "x": {"field": "u", "type": "quantitative"}}
        },
        {
          "data": {"values": [{"u": 236, "d": 53.3}]},
          "mark": {"type": "point", "shape": "triangle-left", "size": 300, "filled": true, "fill": "#a8c9ef", "opacity": 1},
          "encoding": {"y": {"field": "d", "type": "quantitative"}, "x": {"field": "u", "type": "quantitative"}}
        },
        {
          "data": {"name": "target"},
          "mark": {"type": "rule", "color": "#c5d6da", "strokeWidth": 2},
          "encoding": {"y": {"field": "d", "type": "quantitative"}}
        },
        {
          "data": {"name": "target"},
          "mark": {"type": "text", "fontSize": 21, "dy": 15, "baseline": "middle", "color": "black"},
          "encoding": {"y": {"field": "d", "type": "quantitative"}, "x": {"datum": 119, "type": "quantitative"}, "text": {"field": "t"}}
        },
        {
          "data": {"name": "foot"},
          "transform": [{"filter": "datum.p === 'u'"}],
          "mark": {"type": "text", "align": "left", "baseline": "middle", "fontSize": 21, "color": "black"},
          "encoding": {"x": {"field": "lx", "type": "quantitative"}, "y": {"field": "d", "type": "quantitative"}, "text": {"field": "label"}}
        },
        {
          "data": {"name": "foot"},
          "transform": [{"filter": "datum.p === 'u'"}],
          "mark": {"type": "text", "align": "left", "baseline": "middle", "fontSize": 21, "color": "#1c1cff"},
          "encoding": {"x": {"field": "vx", "type": "quantitative"}, "y": {"field": "d", "type": "quantitative"}, "text": {"field": "value"}}
        },
        {
          "data": {"name": "legendItems"},
          "mark": {"type": "point", "filled": true, "clip": true, "opacity": 1, "stroke": "#999999", "strokeWidth": 0.8},
          "encoding": {
            "x": {"datum": -1000, "type": "quantitative"},
            "y": {"datum": 0, "type": "quantitative"},
            "fill": {"field": "k", "type": "nominal",
              "scale": {"domain": ["Ueq","Assumed\u00a0\u00a0Ueq","PPD, Ueq achieved","PPD, Ueq not achieved"], "range": ["#ffff00","#6d9eeb","#f5f2c6","#d9a3ec"]},
              "legend": {"orient": "none", "legendX": 417, "legendY": 991, "direction": "horizontal", "title": null, "symbolSize": 170, "symbolOpacity": 1,
                "labelFontSize": 19, "labelOffset": 9, "columnPadding": 31, "symbolStrokeWidth": 0.8, "symbolStrokeColor": "#999999", "padding": 0, "labelLimit": 400,
                "labelExpr": "datum.label === 'Ueq' ? 'Ueq\u00a0\u00a0\u00a0\u00a0\u00a0\u00a0\u00a0\u00a0' : datum.label"}},
            "shape": {"field": "k", "type": "nominal",
              "scale": {"domain": ["Ueq","Assumed\u00a0\u00a0Ueq","PPD, Ueq achieved","PPD, Ueq not achieved"], "range": ["circle","circle","triangle-left","triangle-left"]}}
          }
        }
      ]
    },
    {"width": 62, "height": 910, "view": {"stroke": null}, "data": {"values": []}, "mark": "text"},
    {
      "width": 97, "height": 910,
      "layer": [
        {
          "data": {"name": "layers"},
          "mark": {"type": "rect"},
          "encoding": {
            "y": {"field": "top", "type": "quantitative", "scale": {"domain": [0, 60], "reverse": true, "nice": false, "zero": false},
              "axis": {"orient": "left", "title": null, "labels": false, "tickCount": 200,
                "values": [0,1,2,3,4,5,6,7,8,9,10,11,12,13,14,15,16,17,18,19,20,21,22,23,24,25,26,27,28,29,30,31,32,33,34,35,36,37,38,39,40,41,42,43,44,45,46,47,48,49,50,51,52,53,54,55,56,57,58,59,60],
                "tickSize": {"condition": {"test": "datum.value % 5 === 0", "value": 11}, "value": 6},
                "grid": true, "gridOpacity": {"condition": {"test": "datum.value % 5 === 0", "value": 1}, "value": 0}}},
            "y2": {"field": "bot"},
            "x": {"field": "val", "type": "quantitative", "scale": {"domain": [0, 12], "nice": false, "zero": false},
              "axis": {"orient": "top", "title": "SBT", "format": "d", "tickCount": 200,
                "values": [0,2,4,6,8,10,12],
                "labelExpr": "datum.value % 6 === 0 ? datum.label : ''",
                "tickSize": {"condition": {"test": "datum.value % 6 === 0", "value": 11}, "value": 6},
                "grid": true, "gridOpacity": {"condition": {"test": "datum.value === 6", "value": 1}, "value": 0}}},
            "x2": {"datum": 0},
            "color": {"field": "zone", "type": "nominal", "legend": null,
              "scale": {"domain": ["Sensitive Fines","Silty Clay","Clayey Silt","Silt","Sandy Silt","Silty Sand"],
                        "range": ["#e3221b","#48567e","#4d7372","#3d9580","#7bd0a9","#f3f312"]}}
          }
        },
        {
          "data": {"name": "target"},
          "mark": {"type": "rule", "color": "#c5d6da", "strokeWidth": 2},
          "encoding": {"y": {"field": "d", "type": "quantitative"}}
        }
      ]
    },
    {
      "width": 178, "height": 910,
      "resolve": {"axis": {"y": "independent"}},
      "layer": [
        {
          "data": {"name": "labels"},
          "mark": {"type": "text", "align": "left", "baseline": "middle", "fontSize": 12, "color": "#111111", "dx": 13, "clip": true},
          "encoding": {
            "y": {"field": "d", "type": "quantitative", "scale": {"domain": [0, 60], "reverse": true, "nice": false, "zero": false},
              "axis": {"orient": "left", "title": null, "labels": false, "tickCount": 200,
                "values": [0,1,2,3,4,5,6,7,8,9,10,11,12,13,14,15,16,17,18,19,20,21,22,23,24,25,26,27,28,29,30,31,32,33,34,35,36,37,38,39,40,41,42,43,44,45,46,47,48,49,50,51,52,53,54,55,56,57,58,59,60],
                "tickSize": {"condition": {"test": "datum.value % 5 === 0", "value": 11}, "value": 6},
                "grid": true, "gridOpacity": {"condition": {"test": "datum.value % 5 === 0", "value": 1}, "value": 0}}},
            "x": {"datum": 0, "type": "quantitative", "scale": {"domain": [0, 1]}, "axis": null},
            "text": {"field": "name"}
          }
        },
        {
          "data": {"name": "target"},
          "mark": {"type": "rule", "color": "#c5d6da", "strokeWidth": 2},
          "encoding": {
            "y": {"field": "d", "type": "quantitative",
              "axis": {"orient": "right", "values": [0,10,20,30,40,50,60], "tickCount": 200, "labelExpr": "'' + (100 - datum.value)",
                "title": "Elevation asl. (m)", "titleColor": "black", "titleFontSize": 26.5, "titleAngle": 270, "titlePadding": 45,
                "labelFontSize": 27, "tickSize": 10, "labelPadding": 8, "grid": false}}
          }
        }
      ]
    }
  ]
}
